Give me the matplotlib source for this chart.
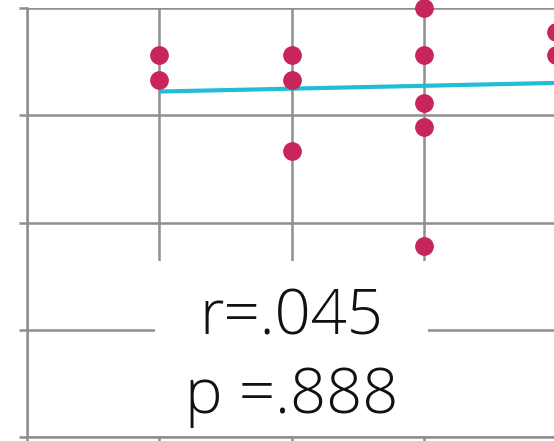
import matplotlib
matplotlib.use("Agg")
import matplotlib.pyplot as plt
from matplotlib.patches import Rectangle

# data
group_x = [1, 1, 2, 2, 2, 3, 3, 3, 3, 3, 4, 4]
scores = [4.56, 4.33, 4.56, 4.33, 3.67, 5.00, 4.56, 4.11, 3.89, 2.78, 4.78, 4.56]
trend_x = [1.0, 4.5]
trend_y = [4.221, 4.315]
stat_lines = ["r=.045", "p =.888"]
x_ticks = [0, 1, 2, 3, 4]
y_ticks = [1, 2, 3, 4, 5]

W, H = 554, 441
fig = plt.figure(figsize=(W / 100, H / 100), dpi=100)
ax = fig.add_axes([27 / W, 4 / H, 529 / W, 429 / H])
ax.set_xlim(0, 4)
ax.set_ylim(1, 5)

grid_c = "#8f8f8f"
lw = 1.8
ax.set_xticks(x_ticks)
ax.set_yticks(y_ticks)
ax.set_xticklabels([])
ax.set_yticklabels([])
ax.grid(True, color=grid_c, linewidth=lw, zorder=0)
ax.set_axisbelow(True)
ax.tick_params(axis="both", direction="out", length=5.8, width=lw, color=grid_c)
for s in ["top", "right"]:
    ax.spines[s].set_visible(False)
for s in ["left", "bottom"]:
    ax.spines[s].set_color(grid_c)
    ax.spines[s].set_linewidth(lw)

ax.plot(trend_x, trend_y, color="#22bdd5", linewidth=3.0, zorder=3,
        solid_capstyle="butt")
ax.plot(group_x, scores, "o", color="#c8255a", markersize=13.5,
        markeredgewidth=0, zorder=4, clip_on=False)

ax.add_patch(Rectangle((0.968, 1.01), 3.032 - 0.968, 2.64 - 1.01,
                       facecolor="white", edgecolor="none", zorder=5))

for txt, yb in zip(stat_lines, [1.960, 1.224]):
    ax.text(2.0, yb, txt, ha="center", va="baseline", fontsize=45.5,
            family=["Open Sans", "DejaVu Sans"], fontweight=300,
            color="#111111", zorder=6)

fig.savefig("out.png", dpi=100)
